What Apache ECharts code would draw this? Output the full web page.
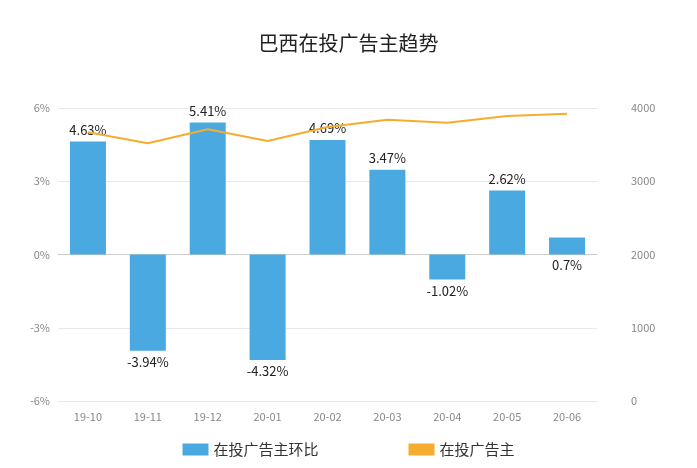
<!DOCTYPE html>
<html>
<head>
<meta charset="UTF-8">
<script src="https://cdn.jsdelivr.net/npm/echarts@6/dist/echarts.min.js"></script>
<style>body{margin:0}#main{width:697px;height:468px}</style>
</head>
<body>
<div id="main"></div>
<script>
    // 月份
    let months = ['19-10', '19-11', '19-12', '20-01', '20-02', '20-03', '20-04', '20-05', '20-06'];
    // 在投广告主环比 (%)
    let ratio = [4.63, -3.94, 5.41, -4.32, 4.69, 3.47, -1.02, 2.62, 0.7];
    // 在投广告主
    let advertisers = [3670, 3520, 3710, 3550, 3740, 3840, 3800, 3890, 3920];

    let myChart = echarts.init(document.getElementById('main'));
    let font = '"Noto Sans CJK SC", sans-serif';
    let option = {
        textStyle: {fontFamily: font},
        title: {
            text: '巴西在投广告主趋势', left: 'center', top: 28,
            textStyle: {fontSize: 20, fontWeight: 'normal', color: '#222', fontFamily: font}
        },
        legend: {
            bottom: 6, itemWidth: 26, itemHeight: 12, itemGap: 90,
            icon: 'rect',
            textStyle: {fontSize: 15, color: '#333'},
            data: ['在投广告主环比', '在投广告主']
        },
        grid: {left: 58, right: 100, top: 108, bottom: 67},
        xAxis: {
            type: 'category', data: months,
            axisLine: {lineStyle: {color: '#ccc'}},
            axisTick: {show: false},
            axisLabel: {color: '#888', fontSize: 11, margin: 10}
        },
        yAxis: [
            {
                type: 'value', min: -6, max: 6, interval: 3,
                axisLabel: {formatter: '{value}%', color: '#888', fontSize: 11},
                axisLine: {show: false}, axisTick: {show: false},
                splitLine: {lineStyle: {color: '#e8e8e8'}}
            },
            {
                type: 'value', min: 0, max: 4000, interval: 1000,
                axisLabel: {color: '#888', fontSize: 11, margin: 34, formatter: function (v) { return String(v); }},
                axisLine: {show: false}, axisTick: {show: false},
                splitLine: {show: false}
            }
        ],
        series: [
            {
                name: '在投广告主环比', type: 'bar', barWidth: 36,
                itemStyle: {color: '#4ba9e1'},
                data: ratio.map(function (v, i) {
                    return (v < 0 || i === ratio.length - 1) ? {value: v, label: {position: v < 0 ? 'bottom' : 'insideBottom', offset: [0, 22]}} : v;
                }),
                label: {
                    show: true, position: 'top', color: '#222', fontSize: 13,
                    formatter: function (p) { return p.value + '%'; }
                }
            },
            {
                name: '在投广告主', type: 'line', yAxisIndex: 1, data: advertisers,
                symbol: 'none', lineStyle: {color: '#f5ad2f', width: 2},
                itemStyle: {color: '#f5ad2f'}
            }
        ]
    };
    option.series[0].data.forEach(function (d) {
        if (typeof d === 'object' && d.value < 0) d.label.offset = [0, 0];
    });
    myChart.setOption(option);
</script>
</body>
</html>
